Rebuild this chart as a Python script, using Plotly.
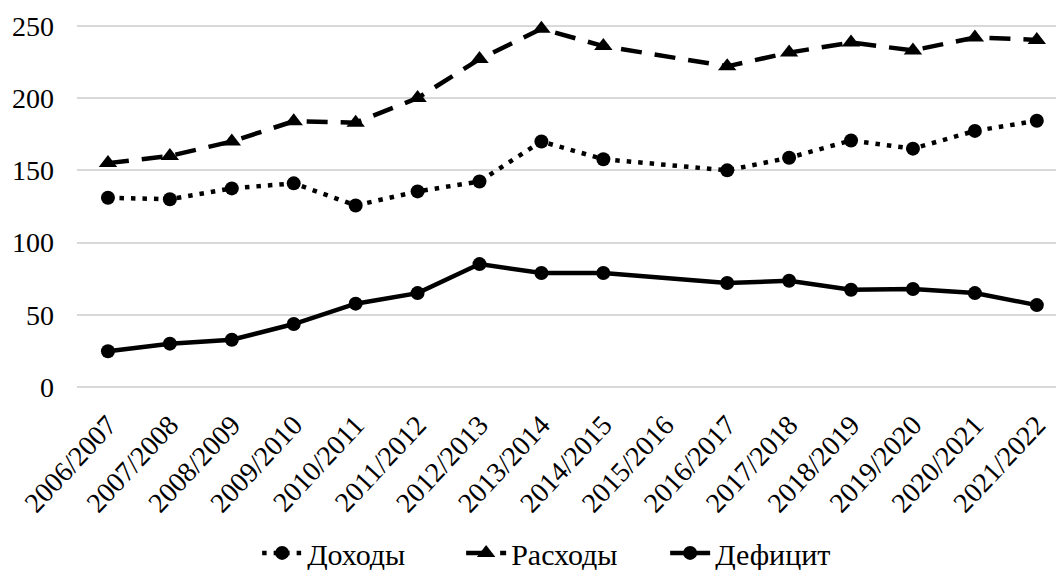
import plotly.graph_objects as go

categories = ["2006/2007", "2007/2008", "2008/2009", "2009/2010", "2010/2011",
              "2011/2012", "2012/2013", "2013/2014", "2014/2015", "2015/2016",
              "2016/2017", "2017/2018", "2018/2019", "2019/2020", "2020/2021",
              "2021/2022"]
dohody = [131, 130, 137.5, 141, 125.7, 135.4, 142.3, 170, 157.7, None,
          150, 158.7, 170.7, 165, 177.3, 184.3]
rashody = [155, 160, 170, 184, 183, 200, 227, 248, 236, None,
           222, 231.5, 238.5, 233, 242, 240.3]
deficit = [24.7, 30, 32.7, 43.6, 57.7, 65, 85.1, 78.9, 78.9, None,
           72, 73.6, 67.3, 67.8, 65, 56.7]
y_ticks = [0, 50, 100, 150, 200, 250]

FONT = "Liberation Serif, Times New Roman, serif"
BLACK = "#000000"

fig = go.Figure()
fig.add_trace(go.Scatter(
    x=categories, y=dohody, name="Доходы", mode="lines+markers",
    connectgaps=True, cliponaxis=False,
    line=dict(color=BLACK, width=4.5, dash="4.5px,7px"),
    marker=dict(symbol="circle", size=14, color=BLACK),
))
fig.add_trace(go.Scatter(
    x=categories, y=rashody, name="Расходы", mode="lines+markers",
    connectgaps=True, cliponaxis=False,
    line=dict(color=BLACK, width=4.5, dash="21px,13px"),
    marker=dict(symbol="triangle-up", size=16, color=BLACK),
))
fig.add_trace(go.Scatter(
    x=categories, y=deficit, name="Дефицит", mode="lines+markers",
    connectgaps=True, cliponaxis=False,
    line=dict(color=BLACK, width=4.5),
    marker=dict(symbol="circle", size=14, color=BLACK),
))

fig.update_layout(
    width=1056, height=570,
    margin=dict(l=77, r=0, t=23, b=183, autoexpand=False),
    paper_bgcolor="white", plot_bgcolor="white",
    font=dict(family=FONT, size=28, color=BLACK),
    showlegend=True,
    legend=dict(
        orientation="h", xref="container", yref="container",
        x=0.2435, xanchor="left", y=0.03, yanchor="middle",
        font=dict(family=FONT, size=30, color=BLACK),
        itemwidth=40, entrywidth=149,
    ),
    xaxis=dict(
        type="category", categoryorder="array", categoryarray=categories,
        range=[-0.5, 15.31], tickangle=-47, showgrid=False,
        showline=False, zeroline=False, ticks="", automargin=False,
        tickfont=dict(family=FONT, size=28, color=BLACK),
        ticklabelstandoff=15,
    ),
    yaxis=dict(
        range=[0, 252], tickvals=y_ticks, showgrid=True, automargin=False,
        gridcolor="#d9d9d9", gridwidth=2, zeroline=True,
        zerolinecolor="#d9d9d9", zerolinewidth=2, showline=False, ticks="",
        tickfont=dict(family=FONT, size=28, color=BLACK),
        ticklabelstandoff=22,
    ),
)

fig.write_html("out.html", config={"displayModeBar": False},
               post_script="document.body.style.margin='0';")
